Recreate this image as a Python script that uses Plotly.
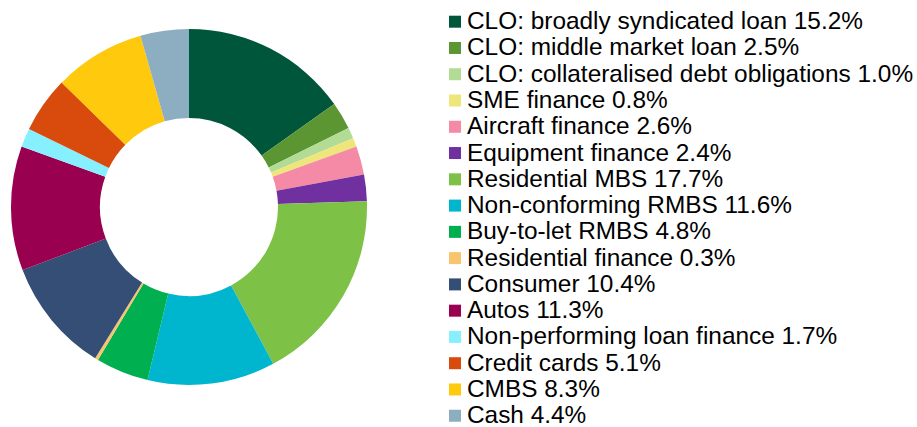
import plotly.graph_objects as go

# ─── Datos ──────────────────────────────────────────────────────────────
categorias = [
    "CLO: broadly syndicated loan",
    "CLO: middle market loan",
    "CLO: collateralised debt obligations",
    "SME finance",
    "Aircraft finance",
    "Equipment finance",
    "Residential MBS",
    "Non-conforming RMBS",
    "Buy-to-let RMBS",
    "Residential finance",
    "Consumer",
    "Autos",
    "Non-performing loan finance",
    "Credit cards",
    "CMBS",
    "Cash",
]
porcentajes = [15.2, 2.5, 1.0, 0.8, 2.6, 2.4, 17.7, 11.6, 4.8, 0.3,
               10.4, 11.3, 1.7, 5.1, 8.3, 4.4]

colores = [
    "#00563A", "#5B9632", "#B2DB95", "#EEE67A", "#F48AA6", "#7030A0",
    "#7DC246", "#00B5CE", "#00AF50", "#F9C46E", "#344E75", "#990050",
    "#87F0FF", "#D94A0D", "#FFC90E", "#8DAEC1",
]

etiquetas = [f"{c} {p:.1f}%" for c, p in zip(categorias, porcentajes)]

W, H = 917, 427
FUENTE = "Liberation Sans, Arial, sans-serif"

fig = go.Figure()

# ── Dona ────────────────────────────────────────────────────────────────
fig.add_trace(go.Pie(
    labels=etiquetas,
    values=porcentajes,
    marker=dict(colors=colores, line=dict(width=0)),
    hole=0.5,
    sort=False,
    direction="clockwise",
    rotation=0,
    textinfo="none",
    hoverinfo="label",
    showlegend=False,
    domain=dict(x=[11 / W, 367 / W], y=[1 - 385 / H, 1 - 29 / H]),
))

# ── Leyenda manual (espaciado compacto como en el original) ─────────────
paso = 26.27
y0 = 21.7
for i, (txt, col) in enumerate(zip(etiquetas, colores)):
    yc = y0 + i * paso
    fig.add_shape(
        type="rect", xref="paper", yref="paper",
        x0=449 / W, x1=461 / W,
        y0=1 - (yc + 6) / H, y1=1 - (yc - 6) / H,
        fillcolor=col, line=dict(width=0),
    )
    fig.add_annotation(
        x=465 / W, y=1 - (yc - 1) / H, xref="paper", yref="paper",
        xanchor="left", yanchor="middle",
        text=txt, showarrow=False,
        font=dict(family=FUENTE, size=24.4, color="black"),
    )

fig.update_layout(
    width=W,
    height=H,
    margin=dict(l=0, r=0, t=0, b=0),
    paper_bgcolor="white",
    font=dict(family=FUENTE, size=24, color="black"),
    showlegend=False,
)

fig.write_html("out.html", config={"displayModeBar": False},
               post_script="document.body.style.margin='0';")
